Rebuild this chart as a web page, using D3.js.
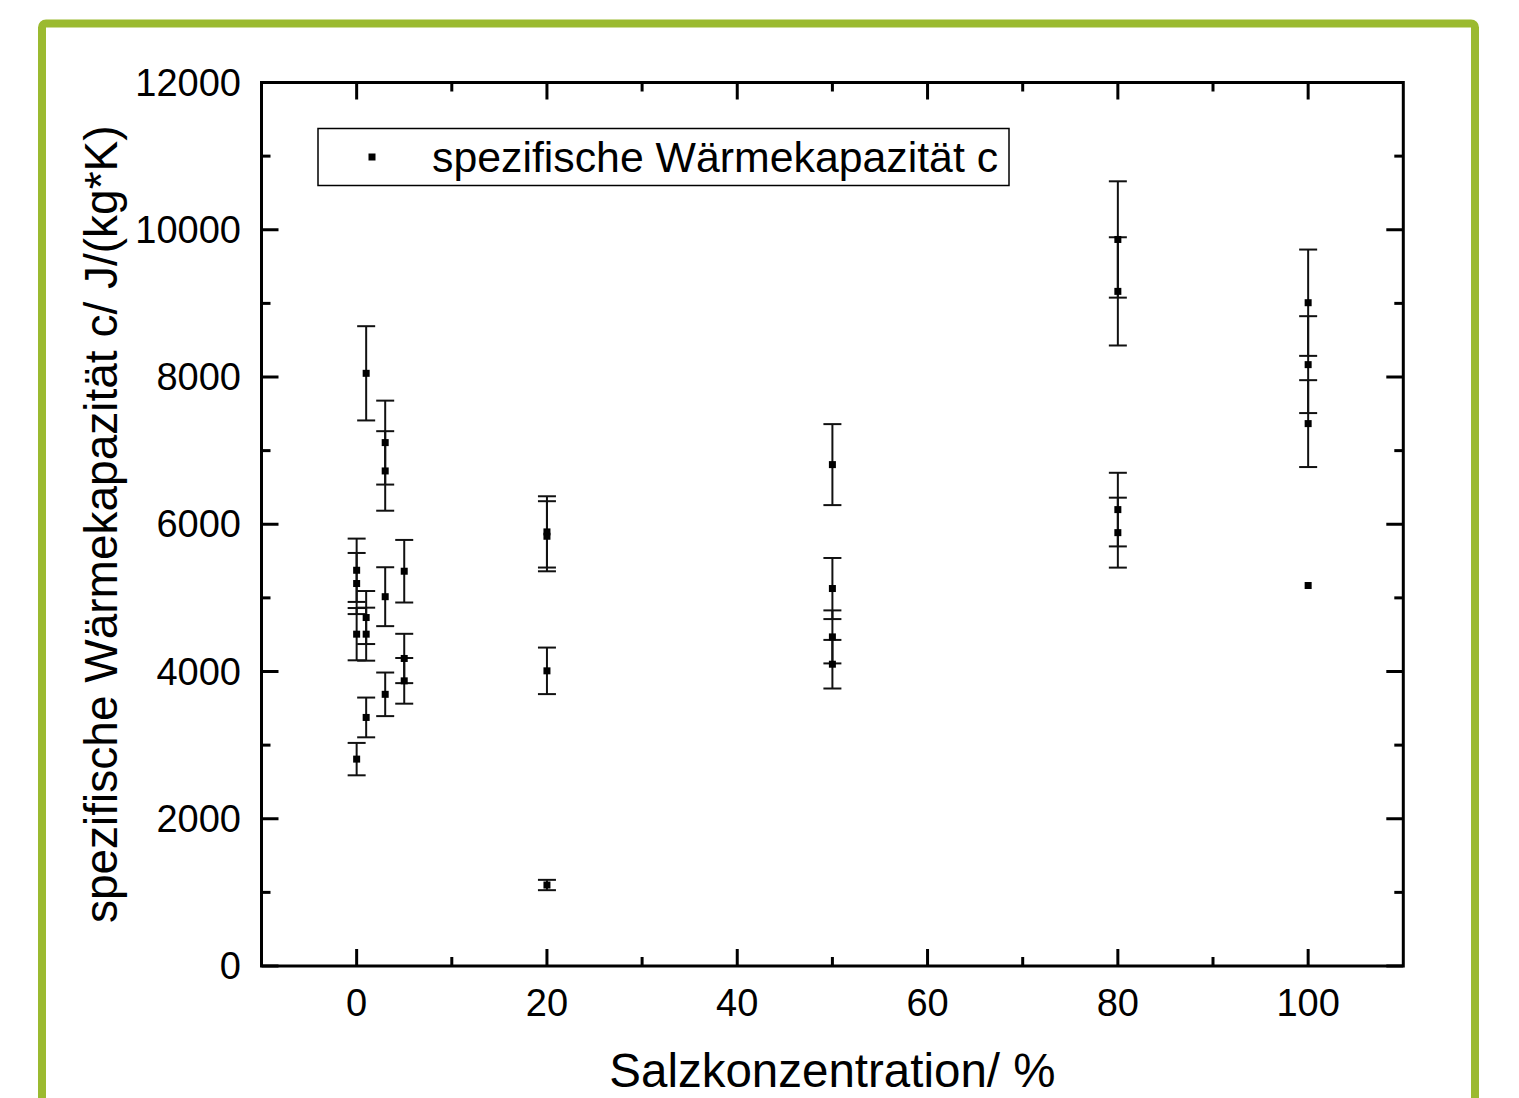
<!doctype html>
<html>
<head>
<meta charset="utf-8">
<script src="https://cdn.jsdelivr.net/npm/d3@7"></script>
<style>
  html, body { margin: 0; padding: 0; background: #fff; }
  svg { display: block; font-family: "Liberation Sans", Arial, sans-serif; }
</style>
</head>
<body>
<script>
// Salt concentration (%) per measurement
const conc = [0, 0, 0, 0, 1, 1, 1, 1, 3, 3, 3, 3, 5, 5, 5, 20, 20, 20, 20, 50, 50, 50, 50, 80, 80, 80, 80, 100, 100, 100, 100];
// specific heat capacity c in J/(kg*K)
const heatCap = [5375, 5195, 4507, 2810, 8050, 4733, 4507, 3376, 7109, 6724, 5016, 3690, 5362, 4177, 3873, 5896, 5837, 4009, 1100, 6810, 5127, 4470, 4099, 9868, 9163, 6199, 5886, 9009, 8168, 7367, 5168];
// error (+/-)
const heatErr = [430, 415, 355, 220, 640, 360, 360, 270, 570, 540, 400, 296, 425, 335, 310, 484, 476, 316, 70, 550, 415, 360, 330, 790, 735, 500, 475, 722, 658, 590, 0];

const xMajor = [0, 20, 40, 60, 80, 100];
const xMinor = [10, 30, 50, 70, 90];
const yMajor = [0, 2000, 4000, 6000, 8000, 10000, 12000];
const yMinor = [1000, 3000, 5000, 7000, 9000, 11000];

const xLabel = "Salzkonzentration/ %";
const yLabel = "spezifische Wärmekapazität c/ J/(kg*K)";
const legendLabel = "spezifische Wärmekapazität c";

const data = conc.map((c, i) => ({x: c, y: heatCap[i], e: heatErr[i]}));

const W = 1519, H = 1098;
const pLeft = 261.5, pRight = 1403.3, pTop = 82.5, pBottom = 966;

const x = d3.scaleLinear().domain([-10, 110]).range([pLeft, pRight]);
const y = d3.scaleLinear().domain([0, 12000]).range([pBottom, pTop]);

const svg = d3.select("body").append("svg")
    .attr("width", W)
    .attr("height", H);

svg.append("rect").attr("width", W).attr("height", H).attr("fill", "#fff");

// green frame
svg.append("rect")
    .attr("x", 42).attr("y", 23.5)
    .attr("width", 1433).attr("height", 1200)
    .attr("rx", 4)
    .attr("fill", "none")
    .attr("stroke", "#9bba30")
    .attr("stroke-width", 8);

// ticks (inward, mirrored on all sides)
const tickG = svg.append("g").attr("stroke", "#000").attr("stroke-width", 3);
const xt = xMajor.map((v) => ({v, len: 17})).concat(xMinor.map((v) => ({v, len: 9})));
const yt = yMajor.map((v) => ({v, len: 17})).concat(yMinor.map((v) => ({v, len: 9})));

tickG.append("g").selectAll("line").data(xt).join("line")
    .attr("x1", (d) => x(d.v)).attr("x2", (d) => x(d.v))
    .attr("y1", pBottom).attr("y2", (d) => pBottom - d.len);
tickG.append("g").selectAll("line").data(xt).join("line")
    .attr("x1", (d) => x(d.v)).attr("x2", (d) => x(d.v))
    .attr("y1", pTop).attr("y2", (d) => pTop + d.len);
tickG.append("g").selectAll("line").data(yt).join("line")
    .attr("y1", (d) => y(d.v)).attr("y2", (d) => y(d.v))
    .attr("x1", pLeft).attr("x2", (d) => pLeft + d.len);
tickG.append("g").selectAll("line").data(yt).join("line")
    .attr("y1", (d) => y(d.v)).attr("y2", (d) => y(d.v))
    .attr("x1", pRight).attr("x2", (d) => pRight - d.len);

// frame of plot
svg.append("rect")
    .attr("x", pLeft).attr("y", pTop)
    .attr("width", pRight - pLeft).attr("height", pBottom - pTop)
    .attr("fill", "none")
    .attr("stroke", "#000")
    .attr("stroke-width", 3);

// tick labels
svg.append("g")
    .attr("font-size", 38)
    .attr("text-anchor", "middle")
  .selectAll("text")
  .data(xMajor)
  .join("text")
    .attr("x", (d) => x(d))
    .attr("y", 1016)
    .text((d) => d);

svg.append("g")
    .attr("font-size", 38)
    .attr("text-anchor", "end")
  .selectAll("text")
  .data(yMajor)
  .join("text")
    .attr("x", 241)
    .attr("y", (d) => y(d) + 13)
    .text((d) => d);

// axis titles
svg.append("text")
    .attr("x", (pLeft + pRight) / 2)
    .attr("y", 1087)
    .attr("text-anchor", "middle")
    .attr("font-size", 47.5)
    .text(xLabel);

svg.append("text")
    .attr("transform", `translate(117,${(pTop + pBottom) / 2}) rotate(-90)`)
    .attr("text-anchor", "middle")
    .attr("font-size", 46)
    .text(yLabel);

// error bars
const eb = svg.append("g")
    .attr("stroke", "#111")
    .attr("stroke-width", 2)
  .selectAll("g")
  .data(data.filter((d) => d.e > 0))
  .join("g");

eb.append("line")
    .attr("x1", (d) => x(d.x)).attr("x2", (d) => x(d.x))
    .attr("y1", (d) => y(d.y + d.e)).attr("y2", (d) => y(d.y - d.e));
eb.append("line")
    .attr("x1", (d) => x(d.x) - 9).attr("x2", (d) => x(d.x) + 9)
    .attr("y1", (d) => y(d.y + d.e)).attr("y2", (d) => y(d.y + d.e));
eb.append("line")
    .attr("x1", (d) => x(d.x) - 9).attr("x2", (d) => x(d.x) + 9)
    .attr("y1", (d) => y(d.y - d.e)).attr("y2", (d) => y(d.y - d.e));

// points
svg.append("g")
  .selectAll("rect")
  .data(data)
  .join("rect")
    .attr("x", (d) => x(d.x) - 3.5)
    .attr("y", (d) => y(d.y) - 3.5)
    .attr("width", 7)
    .attr("height", 7)
    .attr("fill", "#000");

// legend
const lg = svg.append("g");
lg.append("rect")
    .attr("x", 318).attr("y", 128.5)
    .attr("width", 691).attr("height", 57)
    .attr("fill", "#fff")
    .attr("stroke", "#000")
    .attr("stroke-width", 1.5);
lg.append("rect")
    .attr("x", 368.5).attr("y", 153.5)
    .attr("width", 7).attr("height", 7)
    .attr("fill", "#000");
lg.append("text")
    .attr("x", 432)
    .attr("y", 172)
    .attr("font-size", 42.8)
    .text(legendLabel);
</script>
</body>
</html>
